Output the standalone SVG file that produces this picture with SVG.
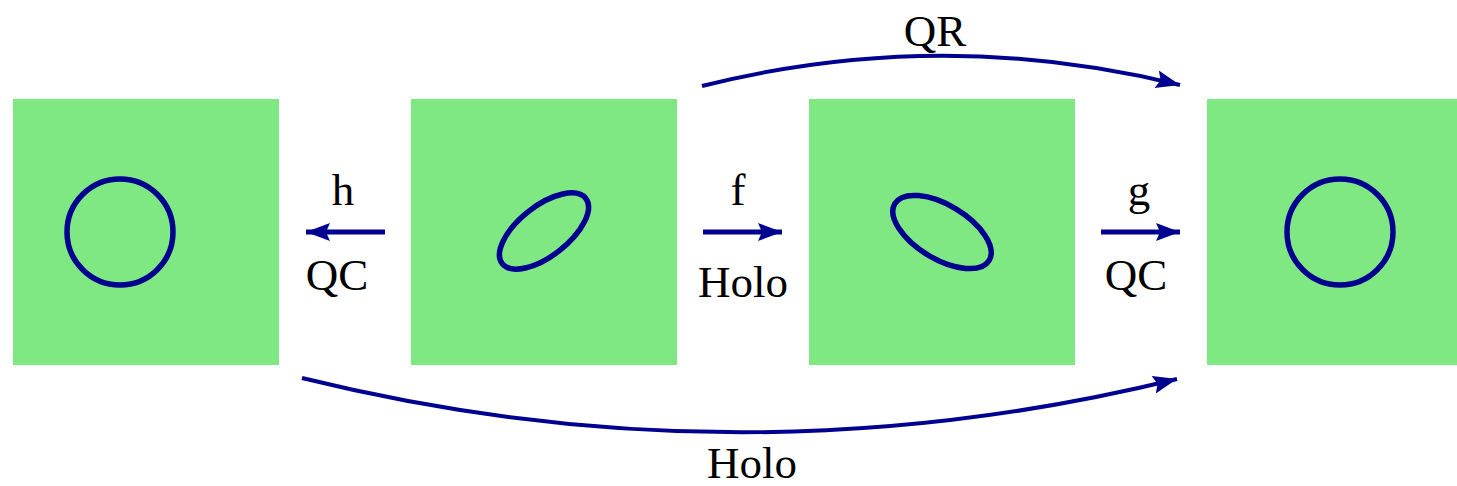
<svg xmlns="http://www.w3.org/2000/svg" width="1457" height="486" viewBox="0 0 1457 486">
<style>
.sq{fill:#80e882}
.shape{fill:none;stroke:#000090;stroke-width:5.5}
.lbl{font-family:"Liberation Serif",serif;font-size:45px;fill:#000;text-anchor:middle}
.con{fill:none;stroke:#000090}
</style>
<defs>
<marker id="ah" markerUnits="userSpaceOnUse" markerWidth="26" markerHeight="20" refX="24" refY="9" orient="auto">
<path d="M0,0 L24,9 L0,18 L4,9 Z" fill="#000090"/>
</marker>
</defs>
<rect width="1457" height="486" fill="#fff"/>
<g id="node1"><rect class="sq" x="13" y="99" width="266" height="266"/><circle class="shape" cx="120" cy="232" r="53"/></g>
<g id="node2"><rect class="sq" x="411" y="99" width="266" height="266"/><ellipse class="shape" cx="544" cy="231" rx="53" ry="25" transform="rotate(-38 544 231)"/></g>
<g id="node3"><rect class="sq" x="809" y="99" width="266" height="266"/><ellipse class="shape" cx="942" cy="232" rx="55" ry="27" transform="rotate(31 942 232)"/></g>
<g id="node4"><rect class="sq" x="1207" y="99" width="266" height="266"/><circle class="shape" cx="1340" cy="232" r="53"/></g>
<g id="connectors">
<path class="con" stroke-width="5" d="M385,232 L306,232" marker-end="url(#ah)"/>
<path class="con" stroke-width="5" d="M703,232 L782,232" marker-end="url(#ah)"/>
<path class="con" stroke-width="5" d="M1101,232 L1180,232" marker-end="url(#ah)"/>
<path class="con" stroke-width="4" d="M702,86 Q941,26 1180,85" marker-end="url(#ah)"/>
<path class="con" stroke-width="4" d="M302,378 Q740,486 1177,379" marker-end="url(#ah)"/>
</g>
<g id="labels">
<text class="lbl" x="343" y="205">h</text>
<text class="lbl" x="337" y="290">QC</text>
<text class="lbl" x="738" y="205">f</text>
<text class="lbl" x="743" y="297">Holo</text>
<text class="lbl" x="1139" y="205">g</text>
<text class="lbl" x="1136" y="290">QC</text>
<text class="lbl" x="935" y="46">QR</text>
<text class="lbl" x="752" y="478">Holo</text>
</g>
</svg>
